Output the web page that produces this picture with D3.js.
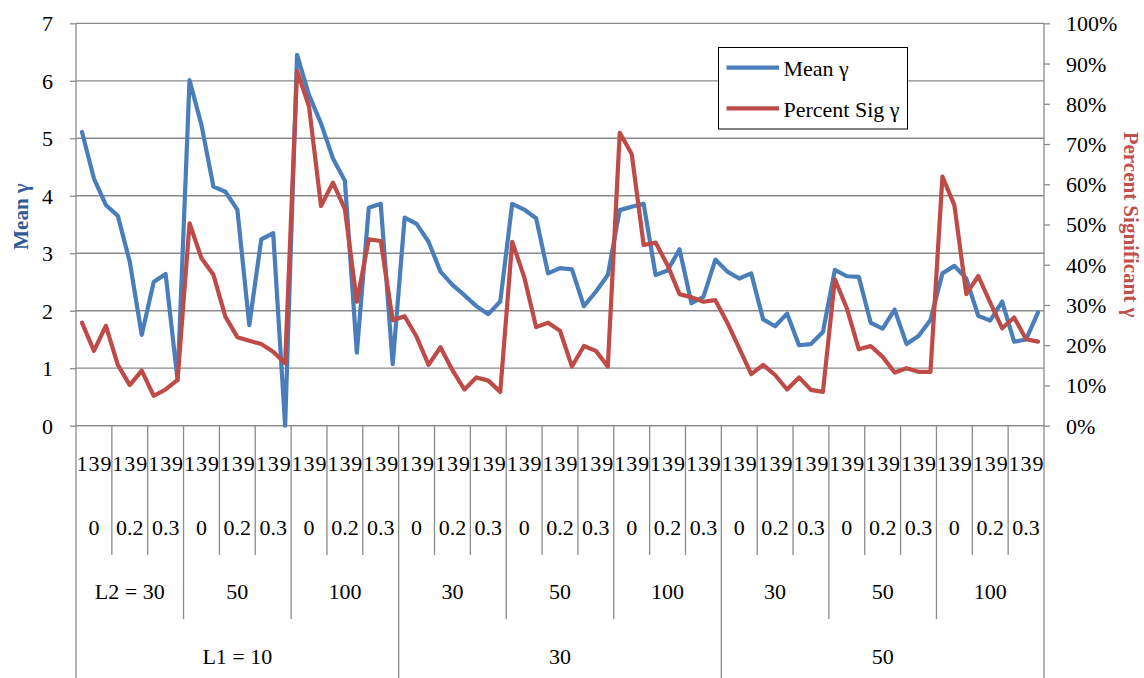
<!DOCTYPE html>
<html>
<head>
<meta charset="utf-8">
<script src="https://cdn.jsdelivr.net/npm/d3@7"></script>
<style>
  html, body { margin: 0; padding: 0; background: #ffffff; }
  svg { display: block; }
  svg text { font-family: "Liberation Serif", "Times New Roman", Times, serif; }
</style>
</head>
<body>
<svg id="chart" width="1144" height="678"></svg>
<script>
// Category levels (innermost first)
const innerLabels = ["1", "3", "9"];
const rhoLabels = ["0", "0.2", "0.3"];
const l2Labels = ["30", "50", "100"];
const l1Labels = ["10", "30", "50"];

// Mean gamma for each of the 81 conditions
const meanGamma = [
  5.11, 4.30, 3.84, 3.65, 2.85, 1.58, 2.50, 2.64, 0.79,
  6.01, 5.23, 4.16, 4.07, 3.76, 1.75, 3.24, 3.35, 0.00,
  6.45, 5.75, 5.26, 4.65, 4.26, 1.27, 3.79, 3.86, 1.07,
  3.62, 3.51, 3.20, 2.68, 2.45, 2.27, 2.08, 1.94, 2.16,
  3.86, 3.76, 3.61, 2.65, 2.74, 2.72, 2.08, 2.33, 2.62,
  3.75, 3.81, 3.86, 2.62, 2.70, 3.07, 2.13, 2.24, 2.89,
  2.68, 2.56, 2.65, 1.85, 1.73, 1.95, 1.40, 1.42, 1.63,
  2.71, 2.60, 2.59, 1.79, 1.69, 2.02, 1.42, 1.56, 1.84,
  2.65, 2.78, 2.56, 1.91, 1.83, 2.16, 1.46, 1.50, 1.97
];

// Percent of significant gamma estimates for each condition
const pctSig = [
  25.6, 18.6, 24.8, 15.1, 10.1, 13.7, 7.4, 9.0, 11.4,
  50.3, 41.6, 37.5, 27.1, 22.0, 21.1, 20.3, 18.4, 15.5,
  88.2, 79.3, 54.6, 60.4, 53.8, 30.8, 46.3, 45.9, 26.2,
  27.2, 22.1, 15.1, 19.5, 13.8, 9.0, 12.0, 11.2, 8.4,
  45.7, 37.0, 24.5, 25.6, 23.6, 14.7, 19.8, 18.6, 14.7,
  72.8, 67.5, 44.9, 45.5, 39.9, 32.7, 31.9, 30.8, 31.2,
  25.6, 19.2, 12.8, 15.1, 12.6, 9.0, 12.0, 8.9, 8.4,
  36.4, 29.2, 19.0, 19.8, 17.1, 13.2, 14.3, 13.4, 13.4,
  61.9, 54.8, 32.7, 37.2, 30.6, 24.2, 26.9, 21.5, 20.9
];

const leftTicks = [0, 1, 2, 3, 4, 5, 6, 7];
const rightTicks = [0, 10, 20, 30, 40, 50, 60, 70, 80, 90, 100];
const seriesNames = ["Mean \u03b3", "Percent Sig \u03b3"];

const blue = "#4a7ebb";
const red = "#be4b48";
const gridColor = "#8a8a8a";
const fontSize = 22;
const serif = "'Liberation Serif', 'Times New Roman', Times, serif";

const svg = d3.select("#chart");
const plot = { left: 76, right: 1044, top: 23.3, bottom: 425.7 };

// Build the nested category structure
const points = [];
l1Labels.forEach((l1, a) => l2Labels.forEach((l2, b) => rhoLabels.forEach((r, c) =>
  innerLabels.forEach((k, d) => points.push({ l1, l2, r, k, id: `${a}-${b}-${c}-${d}` })))));
const groups = [];
l1Labels.forEach((l1, a) => l2Labels.forEach((l2, b) => rhoLabels.forEach((r, c) =>
  groups.push({ r, id: `${a}-${b}-${c}` }))));
const l2Groups = [];
l1Labels.forEach((l1, a) => l2Labels.forEach((l2, b) =>
  l2Groups.push({ label: (a === 0 && b === 0) ? "L2 = " + l2 : l2, id: `${a}-${b}` })));
const l1Groups = l1Labels.map((l1, a) => ({ label: a === 0 ? "L1 = " + l1 : l1, id: `${a}` }));

const x = d3.scaleBand().domain(points.map(p => p.id)).range([plot.left, plot.right]);
const xg = d3.scaleBand().domain(groups.map(g => g.id)).range([plot.left, plot.right]);
const x2 = d3.scaleBand().domain(l2Groups.map(g => g.id)).range([plot.left, plot.right]);
const x1 = d3.scaleBand().domain(l1Groups.map(g => g.id)).range([plot.left, plot.right]);
const cx = i => x(points[i].id) + x.bandwidth() / 2;

const yL = d3.scaleLinear().domain([0, 7]).range([plot.bottom, plot.top]);
const yR = d3.scaleLinear().domain([0, 100]).range([plot.bottom, plot.top]);

// Horizontal gridlines
svg.append("g").selectAll("line").data(leftTicks).join("line")
  .attr("x1", plot.left).attr("x2", plot.right)
  .attr("y1", d => yL(d)).attr("y2", d => yL(d))
  .attr("stroke", gridColor).attr("stroke-width", 1.3);

// Left value axis
const axL = svg.append("g").attr("transform", `translate(${plot.left},0)`)
  .call(d3.axisLeft(yL).tickValues(leftTicks).tickSize(6).tickPadding(17).tickSizeOuter(0)
    .tickFormat(d => String(d)));
// Right percentage axis
const axR = svg.append("g").attr("transform", `translate(${plot.right},0)`)
  .call(d3.axisRight(yR).tickValues(rightTicks).tickSize(6).tickPadding(16).tickSizeOuter(0)
    .tickFormat(d => d + "%"));
[axL, axR].forEach(ax => {
  ax.attr("font-family", serif).attr("font-size", fontSize);
  ax.select(".domain").remove();
  ax.selectAll(".tick line").attr("stroke", gridColor).attr("stroke-width", 1.3);
  ax.selectAll(".tick text").attr("fill", "#000").attr("dy", "0.34em");
});

// Axis lines extending down through the category label rows
svg.append("g").selectAll("line").data([plot.left, plot.right]).join("line")
  .attr("x1", d => d).attr("x2", d => d).attr("y1", plot.top).attr("y2", 678)
  .attr("stroke", gridColor).attr("stroke-width", 1.3);
// Category axis baseline
svg.append("line").attr("x1", plot.left).attr("x2", plot.right)
  .attr("y1", plot.bottom).attr("y2", plot.bottom)
  .attr("stroke", gridColor).attr("stroke-width", 1.3);

// Multi-level category separators
const rowBottoms = [555, 619, 678];
const sep = svg.append("g").attr("stroke", gridColor).attr("stroke-width", 1.3);
sep.selectAll(".g3").data(groups.slice(1)).join("line")
  .attr("x1", d => xg(d.id)).attr("x2", d => xg(d.id))
  .attr("y1", plot.bottom).attr("y2", rowBottoms[0]);
sep.selectAll(".g2").data(l2Groups.slice(1)).join("line")
  .attr("x1", d => x2(d.id)).attr("x2", d => x2(d.id))
  .attr("y1", rowBottoms[0]).attr("y2", rowBottoms[1]);
sep.selectAll(".g1").data(l1Groups.slice(1)).join("line")
  .attr("x1", d => x1(d.id)).attr("x2", d => x1(d.id))
  .attr("y1", rowBottoms[1]).attr("y2", rowBottoms[2]);

// Category labels
const lab = svg.append("g").attr("font-family", serif).attr("font-size", fontSize)
  .attr("fill", "#000").attr("text-anchor", "middle");
lab.selectAll(".k").data(points).join("text")
  .attr("x", d => x(d.id) + x.bandwidth() / 2).attr("y", 471).text(d => d.k);
lab.selectAll(".r").data(groups).join("text")
  .attr("x", d => xg(d.id) + xg.bandwidth() / 2).attr("y", 535).text(d => d.r);
lab.selectAll(".l2").data(l2Groups).join("text")
  .attr("x", d => x2(d.id) + x2.bandwidth() / 2).attr("y", 599).text(d => d.label);
lab.selectAll(".l1").data(l1Groups).join("text")
  .attr("x", d => x1(d.id) + x1.bandwidth() / 2).attr("y", 664).text(d => d.label);

// Series lines
const lineL = d3.line().x((d, i) => cx(i)).y(d => yL(d));
const lineR = d3.line().x((d, i) => cx(i)).y(d => yR(d));
svg.append("path").datum(meanGamma).attr("d", lineL)
  .attr("fill", "none").attr("stroke", blue).attr("stroke-width", 4.2)
  .attr("stroke-linejoin", "round").attr("stroke-linecap", "round");
svg.append("path").datum(pctSig).attr("d", lineR)
  .attr("fill", "none").attr("stroke", red).attr("stroke-width", 4.2)
  .attr("stroke-linejoin", "round").attr("stroke-linecap", "round");

// Axis titles
svg.append("text")
  .attr("transform", `translate(28,${(plot.top + plot.bottom) / 2 - 8}) rotate(-90)`)
  .attr("text-anchor", "middle").attr("font-family", serif).attr("font-size", 21)
  .attr("font-weight", "bold").attr("fill", "#2f5b95").text("Mean \u03b3");
svg.append("text")
  .attr("transform", `translate(1124,${(plot.top + plot.bottom) / 2}) rotate(90)`)
  .attr("text-anchor", "middle").attr("font-family", serif).attr("font-size", 21)
  .attr("font-weight", "bold").attr("fill", "#c0504d").text("Percent Significant \u03b3");

// Legend
const legend = svg.append("g").attr("transform", "translate(718.5,47.5)");
legend.append("rect").attr("width", 189).attr("height", 81.5)
  .attr("fill", "#fff").attr("stroke", "#000").attr("stroke-width", 1);
const entries = legend.selectAll(".entry").data([blue, red]).join("g")
  .attr("transform", (d, i) => `translate(0,${20.2 + i * 40.6})`);
entries.append("line").attr("x1", 8).attr("x2", 60.5)
  .attr("stroke", d => d).attr("stroke-width", 4.2);
entries.append("text").attr("x", 65).attr("y", 8.5).attr("font-family", serif)
  .attr("font-size", fontSize).attr("fill", "#000").text((d, i) => seriesNames[i]);
</script>
</body>
</html>
